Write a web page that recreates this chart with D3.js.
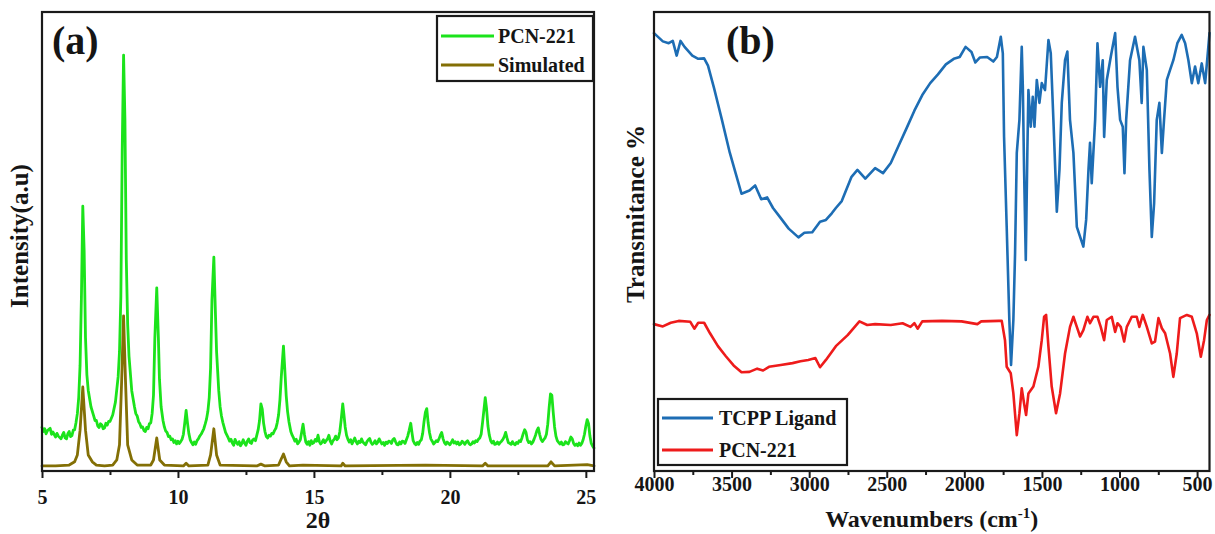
<!DOCTYPE html>
<html><head><meta charset="utf-8">
<script src="https://cdn.jsdelivr.net/npm/d3@7"></script>
<style>
body{margin:0;background:#fff}
svg{display:block}
text{font-family:"Liberation Serif","Times New Roman",serif;font-weight:bold;fill:#151515}
</style>
</head><body>
<svg id="c" width="1215" height="534"></svg>
<script>
// ---------- DATA ----------
const xrdTicks = [5, 10, 15, 20, 25];
const xrdMinorTicks = [7.5, 12.5, 17.5, 22.5];
const irTicks = [4000, 3500, 3000, 2500, 2000, 1500, 1000, 500];
const irMinorTicks = [3750, 3250, 2750, 2250, 1750, 1250, 750];
const xrdSeriesNames = ["PCN-221", "Simulated"];
const irSeriesNames = ["TCPP Ligand", "PCN-221"];

// [2θ, intensity (a.u.)]
const xrdPCN221 = [
[5.0,9.5],[5.05,8.6],[5.1,9.2],[5.15,8.1],[5.2,8.8],[5.3,9.3],[5.35,8.0],[5.4,8.5],[5.5,7.4],[5.55,8.2],
[5.6,7.6],[5.7,7.0],[5.75,7.8],[5.8,8.4],[5.85,7.2],[5.9,7.0],[5.95,8.1],[6.0,8.6],[6.05,7.5],[6.1,7.7],
[6.15,8.9],[6.2,9.0],[6.25,10.5],[6.3,12.5],[6.35,16],[6.4,23],[6.45,38],[6.5,57.7],[6.55,48],[6.6,29],
[6.65,21],[6.7,17.6],[6.8,14],[6.9,12],[6.95,11],[7.0,11],[7.05,9.8],[7.1,9.5],[7.15,10.3],[7.2,10],
[7.25,9.2],[7.3,9.4],[7.35,10.4],[7.4,10.0],[7.45,10.8],[7.5,10.8],[7.55,11.5],[7.6,12.2],[7.7,15],[7.8,20.5],
[7.85,26],[7.9,38],[7.95,70],[8.0,90.6],[8.05,76.5],[8.1,46],[8.15,32],[8.2,25],[8.3,17.5],[8.4,14],
[8.45,12.5],[8.5,12],[8.55,10.8],[8.6,10.3],[8.65,9.5],[8.7,9.6],[8.75,8.8],[8.8,8.6],[8.85,9.5],[8.9,9.2],
[8.95,10.3],[9.0,10.5],[9.05,12.5],[9.1,16.5],[9.15,29],[9.22,39.9],[9.28,29],[9.32,20],[9.38,14],[9.45,11],
[9.5,9.6],[9.55,8.7],[9.6,8.4],[9.65,7.5],[9.7,7.6],[9.75,6.8],[9.8,7.0],[9.85,6.2],[9.9,6.6],[9.95,5.9],
[10.0,6.5],[10.05,6.0],[10.1,6.4],[10.15,6.9],[10.2,8.0],[10.25,10.5],[10.3,13.2],[10.35,10.5],[10.4,8.2],[10.45,6.8],
[10.5,6.2],[10.55,5.7],[10.6,6.3],[10.65,5.8],[10.7,6.6],[10.75,7.0],[10.8,7.6],[10.85,8.0],[10.9,8.6],[10.95,9.2],
[11.0,10.2],[11.05,11.3],[11.1,13],[11.15,16],[11.2,22.5],[11.25,37.3],[11.32,46.6],[11.38,34],[11.42,26],[11.5,17.5],
[11.55,14],[11.6,12],[11.65,10.6],[11.7,9.5],[11.75,8.4],[11.8,7.8],[11.85,7.2],[11.9,6.5],[11.95,6.9],[12.0,6.1],
[12.05,5.6],[12.1,6.9],[12.15,6.2],[12.2,5.8],[12.25,6.4],[12.3,5.5],[12.35,6.0],[12.4,6.8],[12.45,6.1],[12.5,5.6],
[12.55,6.5],[12.6,7.0],[12.65,6.2],[12.7,6.0],[12.75,6.8],[12.8,7.0],[12.85,6.6],[12.9,7.8],[12.95,9.0],[13.0,11],
[13.05,14.6],[13.1,13.5],[13.15,10.4],[13.2,8.6],[13.25,7.5],[13.3,7.2],[13.35,7.8],[13.4,7.6],[13.45,8.2],[13.5,8.1],
[13.55,8.8],[13.6,9.3],[13.65,10.5],[13.7,12.2],[13.75,15.5],[13.8,20.5],[13.88,27.2],[13.93,22],[13.98,16.5],[14.03,13],
[14.08,10.8],[14.15,8.6],[14.2,7.8],[14.25,7.2],[14.3,6.5],[14.35,6.9],[14.4,5.9],[14.45,6.3],[14.5,6.8],[14.55,8.5],
[14.6,10.2],[14.65,8.0],[14.7,6.3],[14.75,5.8],[14.8,6.4],[14.85,5.6],[14.9,6.6],[14.95,6.0],[15.0,6.2],[15.05,6.9],
[15.1,6.5],[15.15,7.8],[15.2,6.4],[15.25,5.9],[15.3,6.3],[15.35,6.8],[15.4,6.2],[15.45,6.6],[15.5,7.0],[15.55,7.8],
[15.6,6.5],[15.65,5.9],[15.7,6.6],[15.75,6.9],[15.8,7.6],[15.85,6.8],[15.9,7.2],[15.95,8.5],[16.0,11],[16.06,14.6],
[16.1,12.5],[16.15,9.6],[16.2,7.8],[16.25,6.9],[16.3,6.3],[16.35,6.8],[16.4,5.9],[16.45,6.5],[16.5,7.2],[16.55,6.4],
[16.6,5.9],[16.65,6.5],[16.7,6.2],[16.75,7.0],[16.8,6.3],[16.85,6.0],[16.9,5.7],[16.95,6.4],[17.0,6.8],[17.05,7.1],
[17.1,6.2],[17.15,5.8],[17.2,6.1],[17.25,6.6],[17.3,5.9],[17.35,6.3],[17.4,7.0],[17.45,6.4],[17.5,5.9],[17.55,6.2],
[17.6,5.6],[17.65,6.3],[17.7,6.0],[17.75,6.5],[17.8,6.4],[17.85,6.0],[17.9,6.8],[17.95,7.1],[18.0,6.4],[18.05,5.8],
[18.1,5.7],[18.15,6.3],[18.2,5.9],[18.25,6.5],[18.3,6.4],[18.35,6.0],[18.4,6.8],[18.45,7.6],[18.5,8.8],[18.56,10.4],
[18.61,8.2],[18.65,6.6],[18.7,6.0],[18.75,5.7],[18.8,6.2],[18.85,5.8],[18.9,6.5],[18.95,6.8],[19.0,8.2],[19.05,10.8],
[19.1,12.8],[19.15,13.6],[19.2,10.5],[19.25,8.4],[19.3,7.0],[19.35,6.5],[19.4,5.9],[19.45,6.2],[19.5,6.6],[19.55,6.4],
[19.6,7.0],[19.65,7.8],[19.7,8.4],[19.75,7.0],[19.8,6.2],[19.85,5.8],[19.9,6.3],[19.95,6.0],[20.0,5.7],[20.05,6.2],
[20.1,6.8],[20.15,6.1],[20.2,6.4],[20.25,5.9],[20.3,6.3],[20.35,5.7],[20.4,5.9],[20.45,6.5],[20.5,6.2],[20.55,5.8],
[20.6,6.3],[20.65,6.6],[20.7,6.0],[20.75,5.7],[20.8,5.9],[20.85,6.4],[20.9,6.1],[20.95,6.6],[21.0,6.4],[21.05,6.9],
[21.1,7.2],[21.15,8.0],[21.2,10.5],[21.25,13.2],[21.3,16.0],[21.35,13.5],[21.4,9.8],[21.45,7.8],[21.5,6.6],[21.55,6.1],
[21.6,6.5],[21.65,5.8],[21.7,5.9],[21.75,6.3],[21.8,5.8],[21.85,6.2],[21.9,6.5],[21.95,6.9],[22.0,7.5],[22.05,8.4],
[22.1,7.2],[22.15,6.2],[22.2,6.0],[22.25,5.8],[22.3,6.4],[22.35,5.9],[22.4,5.7],[22.45,6.2],[22.5,6.0],[22.55,6.6],
[22.6,6.4],[22.65,7.2],[22.7,8.2],[22.75,9.0],[22.8,8.4],[22.85,6.8],[22.9,6.2],[22.95,6.4],[23.0,5.9],[23.05,6.3],
[23.1,7.0],[23.15,7.8],[23.2,8.8],[23.25,9.4],[23.3,8.0],[23.35,6.9],[23.4,6.4],[23.45,6.8],[23.5,7.2],[23.55,8.0],
[23.6,10.2],[23.65,13.8],[23.7,16.8],[23.75,16.5],[23.8,12.8],[23.85,9.6],[23.9,7.6],[23.95,6.6],[24.0,6.2],[24.05,5.9],
[24.1,6.3],[24.15,5.7],[24.2,5.8],[24.25,6.4],[24.3,6.1],[24.35,5.9],[24.4,6.6],[24.45,7.4],[24.5,7.0],[24.55,6.0],
[24.6,5.6],[24.65,5.9],[24.7,5.5],[24.75,6.1],[24.8,5.6],[24.85,6.0],[24.9,6.8],[24.95,8.0],[25.0,9.8],[25.05,11.2],
[25.1,10.3],[25.15,7.6],[25.2,6.0],[25.25,5.4],[25.3,5.0]
];

const xrdSimulated = [
[5.0,1.1],[5.5,1.1],[6.0,1.3],[6.2,2.0],[6.3,3.5],[6.4,8.9],[6.5,18.3],[6.6,8.9],[6.7,3.5],[6.85,2.0],
[7.0,1.3],[7.3,1.1],[7.6,1.3],[7.75,2.4],[7.85,5.7],[7.93,19.8],[8.0,33.8],[8.07,19.8],[8.15,5.7],[8.3,2.4],
[8.5,1.3],[9.0,1.3],[9.1,2.4],[9.22,7.2],[9.33,2.4],[9.5,1.3],[10.2,1.1],[10.3,1.7],[10.4,1.1],[11.1,1.3],
[11.2,3.5],[11.32,9.2],[11.42,3.5],[11.55,1.3],[12.9,1.1],[13.05,1.5],[13.2,1.1],[13.7,1.3],[13.78,2.4],[13.88,3.7],
[13.98,2.0],[14.1,1.1],[14.6,1.3],[16.0,1.1],[16.06,1.7],[16.15,1.1],[19.1,1.3],[21.2,1.1],[21.3,1.7],[21.4,1.1],
[23.6,1.1],[23.72,2.0],[23.85,1.1],[25.05,1.4],[25.3,1.1]
];

// [wavenumber (cm-1), transmittance (a.u.)]
const irTCPP = [
[4000,95.4],[3943,93.6],[3905,93.2],[3879,93.7],[3854,90.5],[3829,93.7],[3803,92.4],[3753,90.5],[3715,89.8],[3677,89.9],
[3652,88.3],[3613,83.4],[3588,80.0],[3563,76.6],[3512,69.4],[3474,64.9],[3436,60.4],[3385,61.1],[3348,62.2],[3309,59.2],
[3271,59.6],[3233,57.3],[3183,55.1],[3132,52.8],[3069,50.9],[3031,51.9],[2980,52.0],[2930,54.3],[2892,54.7],[2853,56.2],
[2828,57.3],[2790,58.8],[2727,64.1],[2689,65.6],[2638,63.7],[2575,66.0],[2524,64.9],[2474,67.1],[2423,70.9],[2372,74.7],
[2322,78.5],[2271,81.9],[2220,84.5],[2170,86.4],[2119,88.6],[2068,89.8],[2030,90.2],[1992,92.4],[1954,91.3],[1929,89.0],
[1899,90.1],[1853,90.2],[1813,89.2],[1790,90.2],[1765,94.6],[1752,91.0],[1744,72.8],[1727,53.2],[1710,32.9],[1699,23.1],
[1684,32.9],[1673,47.5],[1662,69.3],[1645,76.5],[1630,92.4],[1623,83.7],[1615,65.6],[1604,46.0],[1594,69.3],[1587,83.0],
[1572,75.0],[1559,81.5],[1548,75.0],[1533,85.2],[1516,80.2],[1501,84.5],[1480,83.0],[1458,93.9],[1443,91.0],[1426,76.5],
[1404,56.5],[1387,65.6],[1372,80.2],[1351,89.5],[1336,91.4],[1319,76.5],[1297,69.3],[1275,53.2],[1233,48.9],[1215,54.7],
[1200,65.6],[1190,71.5],[1179,62.7],[1157,76.5],[1142,93.2],[1125,83.7],[1108,89.5],[1099,72.8],[1082,85.2],[1056,90.3],
[1028,95.4],[1013,83.7],[996,76.5],[979,75.0],[968,64.9],[957,76.5],[932,89.5],[900,94.6],[872,89.5],[857,80.2],
[846,92.4],[824,87.4],[807,65.6],[792,51.0],[777,58.3],[760,76.5],[743,80.2],[727,69.3],[713,76.5],[695,85.2],
[674,87.4],[653,89.5],[627,93.2],[599,95.0],[577,93.2],[556,89.5],[534,84.5],[513,88.1],[492,84.5],[470,88.8],
[448,84.5],[433,90.3],[420,95.4]
];

const irPCN221 = [
[4000,32.0],[3943,31.5],[3892,32.3],[3841,32.7],[3766,32.5],[3740,31.0],[3715,32.3],[3677,32.3],[3639,30.0],[3588,27.2],
[3537,25.0],[3487,23.0],[3436,21.5],[3385,21.6],[3335,22.3],[3297,21.9],[3259,22.7],[3183,23.1],[3107,23.5],[3056,23.9],
[3006,24.2],[2960,24.6],[2930,22.6],[2892,24.2],[2828,27.2],[2752,29.6],[2676,32.6],[2626,31.8],[2575,32.0],[2474,31.8],
[2398,32.2],[2347,31.4],[2322,32.2],[2301,31.0],[2271,32.6],[2144,32.7],[2018,32.6],[1916,32.0],[1891,32.6],[1777,32.7],
[1759,32.7],[1738,28.5],[1727,22.7],[1701,21.3],[1684,16.9],[1662,7.8],[1645,12.6],[1630,18.0],[1615,14.7],[1602,12.2],
[1587,16.9],[1555,18.4],[1523,22.7],[1501,28.5],[1486,33.6],[1473,34.0],[1458,27.1],[1437,18.4],[1409,12.6],[1383,16.9],
[1351,25.6],[1319,31.4],[1297,33.6],[1275,31.4],[1254,29.3],[1233,30.7],[1207,33.6],[1190,32.2],[1168,33.6],[1142,33.6],
[1121,31.4],[1099,28.5],[1082,32.9],[1050,33.6],[1028,30.3],[1013,32.2],[992,31.4],[970,28.2],[953,31.4],[921,33.6],
[889,33.6],[872,31.4],[850,34.0],[824,31.4],[792,27.8],[771,28.2],[749,33.3],[727,31.1],[706,30.0],[674,25.6],
[653,20.5],[631,25.6],[610,33.3],[566,34.0],[534,33.6],[502,30.0],[476,24.9],[455,28.5],[437,32.9],[420,34.0]
];

// ---------- DRAW ----------
const svg = d3.select("#c");
svg.append("rect").attr("width", 1215).attr("height", 534).attr("fill", "#fff");

function drawPanel(o) {
  const g = svg.append("g");
  const x = d3.scaleLinear().domain(o.xDomain).range([o.left, o.right]);
  const y = d3.scaleLinear().domain([0, 100]).range([o.bottom, o.top]);
  const line = d3.line().x(d => x(d[0])).y(d => y(d[1]));

  o.series.forEach(s => {
    g.append("path").datum(s.data).attr("d", line)
      .attr("fill", "none").attr("stroke", s.color).attr("stroke-width", s.width)
      .attr("stroke-linejoin", "round").attr("stroke-linecap", "round");
  });

  // frame
  g.append("rect").attr("x", o.left).attr("y", o.top)
    .attr("width", o.right - o.left).attr("height", o.bottom - o.top)
    .attr("fill", "none").attr("stroke", "#1a1a1a").attr("stroke-width", 2.2);

  // minor ticks
  const minor = g.append("g").attr("transform", `translate(0,${o.bottom})`)
    .call(d3.axisBottom(x).tickValues(o.minorTicks).tickSize(4).tickFormat(""));
  minor.select(".domain").remove();
  minor.selectAll("line").attr("stroke", "#1a1a1a").attr("stroke-width", 2);

  // major ticks
  const ax = g.append("g").attr("transform", `translate(0,${o.bottom})`)
    .call(d3.axisBottom(x).tickValues(o.ticks).tickSize(7).tickFormat(d3.format("d")));
  ax.select(".domain").remove();
  ax.selectAll("line").attr("stroke", "#1a1a1a").attr("stroke-width", 2);
  ax.selectAll("text").attr("y", o.tickLabelY).attr("dy", null)
    .attr("font-size", 20).attr("font-family", '"Liberation Serif",serif')
    .attr("font-weight", "bold").attr("fill", "#151515");

  // axis titles
  const xt = g.append("text").attr("x", (o.left + o.right) / 2).attr("y", o.xTitleY)
    .attr("text-anchor", "middle").attr("font-size", 24);
  o.xTitle(xt);
  g.append("text").attr("transform", `translate(${o.yTitleX},${o.yTitleY}) rotate(-90)`)
    .attr("text-anchor", "middle").attr("font-size", 25).text(o.yTitle);

  // panel label
  g.append("text").attr("x", o.labelX).attr("y", 54).attr("font-size", 40).text(o.label);

  // legend
  const L = o.legend;
  g.append("rect").attr("x", L.x).attr("y", L.y).attr("width", L.w).attr("height", L.h)
    .attr("fill", "#fff").attr("stroke", "#1a1a1a").attr("stroke-width", 2.2);
  o.series.slice().sort((a, b) => a.order - b.order).forEach((s, i) => {
    const yy = L.rowY[i];
    g.append("line").attr("x1", L.lineX1).attr("x2", L.lineX2).attr("y1", yy).attr("y2", yy)
      .attr("stroke", s.color).attr("stroke-width", 3);
    g.append("text").attr("x", L.textX).attr("y", yy + 7).attr("font-size", 20).text(s.name);
  });
}

drawPanel({
  left: 42, right: 594, top: 12, bottom: 471,
  xDomain: [5, 25.3], ticks: xrdTicks, minorTicks: xrdMinorTicks, tickLabelY: 33,
  xTitleY: 528, xTitle: t => t.text("2θ"),
  yTitle: "Intensity(a.u)", yTitleX: 28, yTitleY: 236,
  label: "(a)", labelX: 52,
  series: [
    {name: xrdSeriesNames[0], data: xrdPCN221, color: "#1be31b", width: 2.8, order: 0},
    {name: xrdSeriesNames[1], data: xrdSimulated, color: "#836f05", width: 2.8, order: 1}
  ],
  legend: {x: 437, y: 16, w: 156, h: 65, rowY: [36, 65], lineX1: 441, lineX2: 494, textX: 498}
});

drawPanel({
  left: 654, right: 1209.5, top: 12, bottom: 471,
  xDomain: [4000, 420], ticks: irTicks, minorTicks: irMinorTicks, tickLabelY: 20,
  xTitleY: 527, xTitle: t => { t.text("Wavenumbers (cm"); t.append("tspan").attr("dy", -9).attr("font-size", 15).text("-1"); t.append("tspan").attr("dy", 9).text(")"); },
  yTitle: "Transmitance %", yTitleX: 644, yTitleY: 214,
  label: "(b)", labelX: 726,
  series: [
    {name: irSeriesNames[1], data: irPCN221, color: "#ee1b1b", width: 2.6, order: 1},
    {name: irSeriesNames[0], data: irTCPP, color: "#1d6db4", width: 2.6, order: 0}
  ],
  legend: {x: 658, y: 399, w: 189, h: 66, rowY: [418, 450], lineX1: 662, lineX2: 713, textX: 719}
});
</script>
</body></html>
